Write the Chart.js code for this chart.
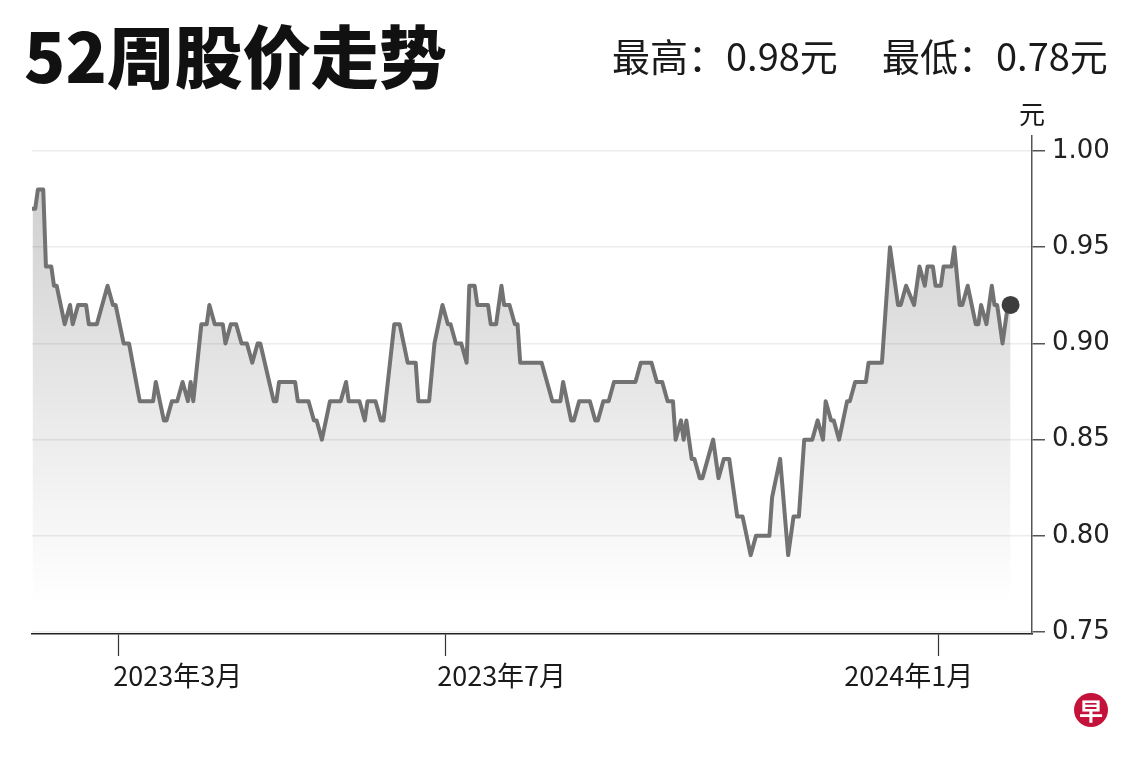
<!DOCTYPE html>
<html><head><meta charset="utf-8">
<script src="https://cdn.jsdelivr.net/npm/chart.js@4.4.1/dist/chart.umd.min.js"></script>
<style>
html,body{margin:0;padding:0;background:#fff;}
#wrap{position:relative;width:1140px;height:760px;overflow:hidden;background:#fff;}
#c{position:absolute;left:0;top:0;}
.t{position:absolute;white-space:nowrap;font-family:'Noto Sans CJK SC',sans-serif;color:#111;line-height:1;}
#title{left:24px;top:20px;font-size:68px;font-weight:900;}
.stat{top:36px;font-size:38px;font-weight:400;color:#1a1a1a;}
#unit{left:1019px;top:100px;font-size:26px;color:#1a1a1a;}
#logo{position:absolute;left:1074px;top:693px;width:34px;height:34px;border-radius:50%;background:#c4123a;color:#fff;
 font-family:'Noto Sans CJK SC',sans-serif;font-weight:700;font-size:24px;line-height:34px;text-align:center;}
</style></head>
<body>
<div id="wrap">
<canvas id="c" width="1140" height="760"></canvas>
<div class="t" id="title">52周股价走势</div>
<div class="t stat" style="left:612px">最高：0.98元</div>
<div class="t stat" style="left:882px">最低：0.78元</div>
<div class="t" id="unit">元</div>
<div id="logo">早</div>
</div>
<script>
// x values: days since 2023-01-01
const dayOffsets = [27,28,29,31,32,34,35,36,39,41,42,44,47,48,51,53,55,57,58,61,63,67,72,73,76,77,79,81,83,85,86,87,90,92,93,95,98,99,101,103,105,107,109,111,112,
117,118,119,125,126,130,132,133,135,138,142,144,145,149,151,152,155,157,158,162,164,167,170,171,175,177,180,182,183,185,187,189,190,192,193,197,198,200,202,203,205,
207,208,209,217,221,224,225,228,229,231,235,237,238,240,242,244,252,254,258,260,262,264,266,267,269,270,271,273,274,276,277,279,281,283,285,287,290,292,295,297,302,303,306,309,311,313,315,318,320,322,323,325,326,328,331,332,334,338,339,344,347,350,351,353,356,358,360,361,363,364,366,367,370,371,373,374,376,379,380,381,383,385,386,387,389,391,392];
// closing price (元)
const prices = [0.97,0.97,0.98,0.98,0.94,0.94,0.93,0.93,0.91,0.92,0.91,0.92,0.92,0.91,0.91,0.92,0.93,0.92,0.92,0.90,0.90,0.87,0.87,0.88,0.86,0.86,0.87,0.87,0.88,0.87,0.88,0.87,0.91,0.91,0.92,0.91,0.91,0.90,0.91,0.91,0.90,0.90,0.89,0.90,0.90,
0.87,0.87,0.88,0.88,0.87,0.87,0.86,0.86,0.85,0.87,0.87,0.88,0.87,0.87,0.86,0.87,0.87,0.86,0.86,0.91,0.91,0.89,0.89,0.87,0.87,0.90,0.92,0.91,0.91,0.90,0.90,0.89,0.93,0.93,0.92,0.92,0.91,0.91,0.93,0.92,0.92,
0.91,0.91,0.89,0.89,0.87,0.87,0.88,0.86,0.86,0.87,0.87,0.86,0.86,0.87,0.87,0.88,0.88,0.89,0.89,0.88,0.88,0.87,0.87,0.85,0.86,0.85,0.86,0.84,0.84,0.83,0.83,0.84,0.85,0.83,0.84,0.84,0.81,0.81,0.79,0.80,0.80,0.82,0.84,0.79,0.81,0.81,0.85,0.85,0.86,0.85,0.87,0.86,0.86,0.85,0.87,0.87,0.88,0.88,0.89,0.89,0.95,0.92,0.92,0.93,0.92,0.94,0.93,0.94,0.94,0.93,0.93,0.94,0.94,0.95,0.92,0.92,0.93,0.91,0.91,0.92,0.91,0.93,0.92,0.92,0.90,0.92,0.92];
// x-axis ticks (days since 2023-01-01) and their labels
const xTickDays = [59, 181, 365];
const xTickLabels = ['2023年3月', '2023年7月', '2024年1月'];
// y-axis ticks
const yTicks = [0.75, 0.80, 0.85, 0.90, 0.95, 1.00];

const xLabelPlugin = {
  id: 'xlabels',
  afterDraw(chart, args, opts) {
    const s = chart.scales.x, c = chart.ctx;
    c.save();
    c.font = '27px "Noto Sans CJK SC"';
    c.fillStyle = '#1a1a1a';
    c.textBaseline = 'middle';
    c.textAlign = 'left';
    xTickLabels.forEach((t, i) => {
      c.fillText(t, s.getPixelForValue(xTickDays[i]) + opts.shift[i], opts.y);
    });
    c.restore();
  }
};

const last = prices.length - 1;
const ctx = document.getElementById('c').getContext('2d');
new Chart(ctx, {
  type: 'line',
  data: {
    datasets: [{
      data: dayOffsets.map((d, i) => ({ x: d, y: prices[i] })),
      borderColor: '#727272',
      borderWidth: 4,
      borderJoinStyle: 'round',
      borderCapStyle: 'round',
      tension: 0,
      fill: 'start',
      backgroundColor: (c) => {
        const ch = c.chart;
        if (!ch.chartArea) return 'rgba(0,0,0,0.1)';
        const y = ch.scales.y;
        const g = ch.ctx.createLinearGradient(0, y.getPixelForValue(1.0), 0, y.getPixelForValue(0.765));
        g.addColorStop(0, 'rgba(0,0,0,0.2)');
        g.addColorStop(1, 'rgba(0,0,0,0)');
        return g;
      },
      pointRadius: (c) => c.dataIndex === last ? 9 : 0,
      pointBackgroundColor: '#3d3d3d',
      pointBorderWidth: 0,
      pointHoverRadius: 0
    }]
  },
  options: {
    responsive: false,
    animation: false,
    events: [],
    layout: { padding: { top: 136, left: 32, right: 0, bottom: 0 } },
    plugins: { legend: { display: false }, tooltip: { enabled: false }, xlabels: { shift: [-5, -8, -94], y: 676 } },
    scales: {
      x: {
        type: 'linear', min: 26.8, max: 400,
        afterBuildTicks: (s) => { s.ticks = xTickDays.map(v => ({ value: v })); },
        afterFit: (s) => { s.height = 126; },
        grid: { drawOnChartArea: false, drawTicks: true, tickLength: 22, tickColor: '#333', tickWidth: 1.2 },
        border: { display: true, color: '#222', width: 1.5 },
        ticks: { display: false }
      },
      y: {
        position: 'right', min: 0.749, max: 1.0078,
        afterBuildTicks: (s) => { s.ticks = yTicks.map(v => ({ value: v })); },
        afterFit: (s) => { s.width = 108; },
        grid: { color: '#ececec', lineWidth: 1.5, tickLength: 13, tickColor: '#555', tickWidth: 1.5 },
        border: { display: true, color: '#555', width: 1.5 },
        ticks: { font: { family: 'DejaVu Sans', size: 26 }, color: '#222', padding: 7, callback: (v) => v.toFixed(2) }
      }
    }
  },
  plugins: [xLabelPlugin]
});
</script>
</body></html>
